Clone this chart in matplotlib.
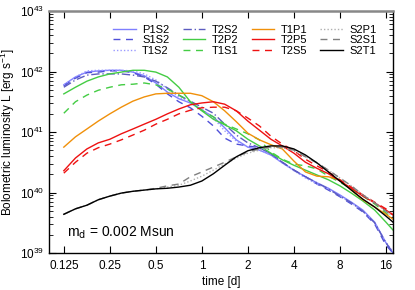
import matplotlib
matplotlib.use("Agg")
import matplotlib.pyplot as plt
import matplotlib.ticker as mticker
import numpy as np

plt.rcParams['font.family'] = ['Liberation Sans', 'DejaVu Sans']
plt.rcParams['mathtext.default'] = 'regular'

# time [d]
t = [0.125, 0.149, 0.177, 0.210, 0.25, 0.297, 0.354, 0.420, 0.5, 0.595,
     0.707, 0.841, 1.0, 1.19, 1.41, 1.68, 2.0, 2.38, 2.83, 3.36,
     4.0, 4.76, 5.66, 6.73, 8.0, 9.51, 11.3, 13.5, 16.0, 17.8]

# log10 of bolometric luminosity [erg/s]
P1S2 = [41.78, 41.91, 41.99, 42.01, 42.02, 42.02, 41.99, 41.93, 41.81, 41.66,
        41.55, 41.48, 41.36, 41.25, 41.07, 40.87, 40.75, 40.70, 40.62, 40.49,
        40.37, 40.26, 40.16, 40.07, 39.96, 39.84, 39.71, 39.51, 39.17, 39.00]
S1S2 = [41.76, 41.89, 41.98, 41.99, 42.01, 42.01, 41.98, 41.91, 41.79, 41.63,
        41.50, 41.40, 41.26, 41.10, 40.90, 40.80, 40.77, 40.74, 40.64, 40.50,
        40.37, 40.26, 40.14, 40.04, 39.93, 39.81, 39.68, 39.48, 39.13, 39.00]
T1S2 = [41.78, 41.91, 42.01, 42.02, 42.02, 42.02, 42.01, 41.96, 41.86, 41.71,
        41.58, 41.48, 41.38, 41.23, 41.02, 40.85, 40.75, 40.70, 40.62, 40.49,
        40.36, 40.24, 40.14, 40.06, 39.94, 39.83, 39.69, 39.50, 39.18, 39.02]
T2S2 = [41.74, 41.86, 41.94, 41.96, 41.96, 41.96, 41.94, 41.91, 41.84, 41.73,
        41.61, 41.51, 41.41, 41.31, 41.13, 40.95, 40.82, 40.74, 40.64, 40.50,
        40.37, 40.26, 40.16, 40.06, 39.94, 39.83, 39.69, 39.50, 39.17, 39.00]
T2P2 = [41.63, 41.74, 41.84, 41.91, 41.96, 41.99, 42.02, 42.02, 41.99, 41.91,
        41.74, 41.50, 41.35, 41.21, 41.12, 41.02, 40.88, 40.77, 40.65, 40.54,
        40.45, 40.37, 40.29, 40.21, 40.11, 39.99, 39.86, 39.71, 39.51, 39.38]
T1S1 = [41.31, 41.50, 41.61, 41.69, 41.74, 41.78, 41.79, 41.81, 41.78, 41.71,
        41.61, 41.50, 41.36, 41.25, 41.13, 41.05, 40.97, 40.87, 40.67, 40.55,
        40.47, 40.44, 40.39, 40.27, 40.17, 40.06, 39.94, 39.81, 39.66, 39.56]
T1P1 = [40.75, 40.92, 41.05, 41.18, 41.30, 41.41, 41.51, 41.58, 41.63, 41.64,
        41.64, 41.64, 41.60, 41.50, 41.35, 41.17, 40.98, 40.87, 40.79, 40.72,
        40.52, 40.34, 40.27, 40.26, 40.21, 40.04, 39.88, 39.76, 39.64, 39.56]
T2P5 = [40.36, 40.57, 40.72, 40.82, 40.88, 40.97, 41.05, 41.13, 41.21, 41.30,
        41.38, 41.45, 41.48, 41.50, 41.46, 41.35, 41.18, 41.03, 40.88, 40.77,
        40.65, 40.50, 40.40, 40.31, 40.19, 40.07, 39.94, 39.83, 39.71, 39.63]
T2S5 = [40.32, 40.50, 40.65, 40.74, 40.80, 40.87, 40.95, 41.03, 41.13, 41.21,
        41.30, 41.36, 41.40, 41.41, 41.41, 41.35, 41.23, 41.10, 40.93, 40.80,
        40.69, 40.55, 40.44, 40.34, 40.21, 40.09, 39.96, 39.84, 39.73, 39.63]
S2P1 = [39.64, 39.73, 39.79, 39.88, 39.94, 39.99, 40.02, 40.04, 40.06, 40.09,
        40.12, 40.19, 40.27, 40.37, 40.47, 40.57, 40.65, 40.70, 40.74, 40.74,
        40.69, 40.59, 40.49, 40.37, 40.24, 40.11, 39.96, 39.83, 39.69, 39.60]
S2S1 = [39.64, 39.73, 39.79, 39.88, 39.94, 39.99, 40.02, 40.04, 40.07, 40.11,
        40.14, 40.26, 40.34, 40.42, 40.50, 40.59, 40.67, 40.72, 40.75, 40.75,
        40.70, 40.59, 40.49, 40.37, 40.24, 40.11, 39.96, 39.83, 39.69, 39.60]
S2T1 = [39.64, 39.73, 39.79, 39.88, 39.94, 39.99, 40.02, 40.04, 40.06, 40.07,
        40.09, 40.12, 40.19, 40.31, 40.45, 40.59, 40.69, 40.74, 40.77, 40.77,
        40.72, 40.62, 40.49, 40.34, 40.19, 40.04, 39.89, 39.76, 39.61, 39.51]

series = [
    ("P1S2", P1S2, dict(color='#7f7fff', ls='-')),
    ("S1S2", S1S2, dict(color='#4f4fd8', ls=(0, (5, 4)))),
    ("T1S2", T1S2, dict(color='#9a9aff', ls=(0, (1, 1.5)))),
    ("T2S2", T2S2, dict(color='#5c5cc0', ls=(0, (6, 2, 1, 2)))),
    ("T2P2", T2P2, dict(color='#44cc44', ls='-')),
    ("T1S1", T1S1, dict(color='#44cc44', ls=(0, (5, 4)))),
    ("T1P1", T1P1, dict(color='#f0900a', ls='-')),
    ("T2P5", T2P5, dict(color='#ee1111', ls='-')),
    ("T2S5", T2S5, dict(color='#ee1111', ls=(0, (5, 4)))),
    ("S2P1", S2P1, dict(color='#b0b0b0', ls=(0, (1, 1.5)))),
    ("S2S1", S2S1, dict(color='#808080', ls=(0, (5, 4)))),
    ("S2T1", S2T1, dict(color='#000000', ls='-')),
]

fig = plt.figure(figsize=(4.15, 2.90), dpi=100)
ax = fig.add_axes([49/415, 37/290, 344/415, 242/290])

for name, vals, st in series:
    ax.plot(t, 10**np.array(vals), lw=1.0, label=name, **st)

ax.set_xscale('log', base=2)
ax.set_yscale('log')
ax.set_xlim(0.1, 17.8)
ax.set_ylim(1e39, 1e43)

xt = [0.125, 0.25, 0.5, 1, 2, 4, 8, 16]
xl = ["0.125", "0.25", "0.5", "1", "2", "4", "8", "16"]
ax.set_xticks(xt)
ax.set_xticklabels(xl)
ax.xaxis.set_minor_locator(mticker.NullLocator())
ax.yaxis.set_major_locator(mticker.LogLocator(base=10, numticks=10))
ax.yaxis.set_minor_locator(mticker.LogLocator(base=10, subs=np.arange(2, 10), numticks=20))
ax.yaxis.set_minor_formatter(mticker.NullFormatter())
ax.yaxis.set_major_formatter(mticker.FuncFormatter(lambda v, p: r"$10^{%d}$" % round(np.log10(v))))

ax.tick_params(which='both', direction='in', top=True, right=True, labelsize=8.5)
ax.tick_params(which='major', length=5, width=0.8)
ax.tick_params(which='minor', length=3, width=0.6)
ax.tick_params(axis='x', pad=5)
for s in ['left', 'right', 'bottom']:
    ax.spines[s].set_linewidth(1.0)
ax.spines['top'].set_color('#888888')
ax.spines['top'].set_linewidth(1.8)

ax.set_xlabel("time [d]", fontsize=8.5, labelpad=3)
ax.set_ylabel(r"Bolometric luminosity L [erg s$^{-1}$]", fontsize=8.5, labelpad=2)

ax.text(0.052, 0.05, r"m$_\mathrm{d}$ = 0.002 Msun", transform=ax.transAxes,
        fontsize=10, ha='left', va='bottom')

ax.legend(ncol=4, loc='upper right', bbox_to_anchor=(0.975, 0.975), frameon=False,
          fontsize=8, handlelength=2.0, handletextpad=0.6, columnspacing=1.2,
          labelspacing=0.05, borderpad=0.2)

fig.savefig("out.png", dpi=100)
